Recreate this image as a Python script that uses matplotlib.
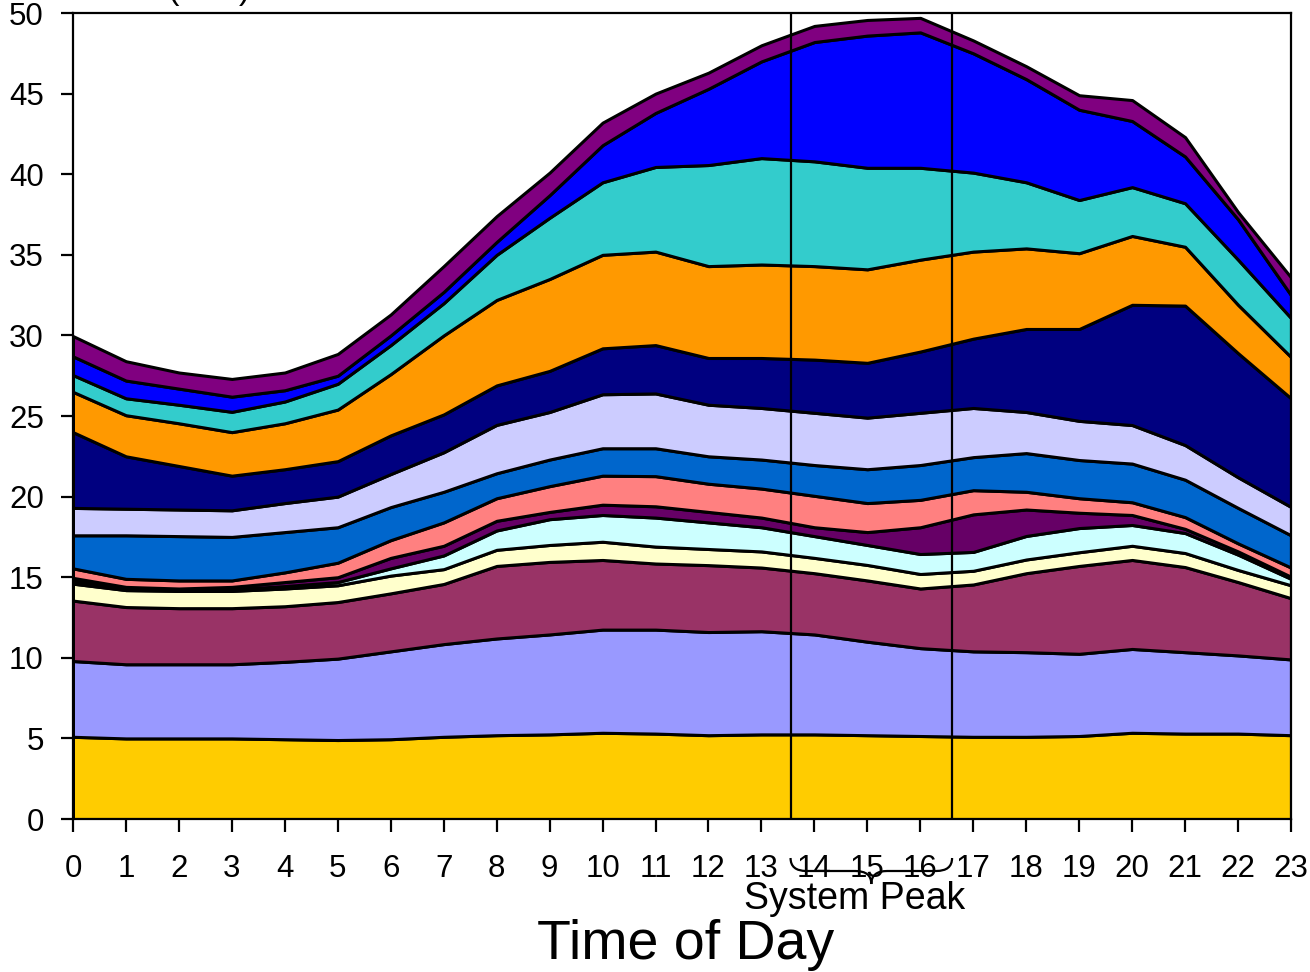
import numpy as np
import matplotlib.pyplot as plt
from matplotlib.path import Path
from matplotlib.patches import PathPatch
from matplotlib.transforms import blended_transform_factory

plt.rcParams['font.family'] = ['Liberation Sans', 'DejaVu Sans']

hours = list(range(24))

# stacked totals (top edge of each layer, bottom to top)
gold_top = [5.1, 5.0, 5.0, 5.0, 4.95, 4.9, 4.95, 5.1, 5.2, 5.25, 5.35, 5.3,
            5.2, 5.25, 5.25, 5.2, 5.15, 5.1, 5.1, 5.15, 5.35, 5.3, 5.3, 5.2]
periwinkle_top = [9.8, 9.6, 9.6, 9.6, 9.75, 9.95, 10.4, 10.85, 11.2, 11.45, 11.75, 11.75,
                  11.6, 11.65, 11.45, 11.0, 10.6, 10.4, 10.35, 10.25, 10.55, 10.35, 10.15, 9.9]
maroon_top = [13.55, 13.15, 13.08, 13.08, 13.2, 13.46, 14.0, 14.58, 15.7, 15.95, 16.07, 15.85,
              15.75, 15.6, 15.25, 14.8, 14.3, 14.55, 15.25, 15.7, 16.07, 15.63, 14.7, 13.7]
cream_top = [14.6, 14.2, 14.15, 14.15, 14.3, 14.5, 15.1, 15.5, 16.7, 17.0, 17.2, 16.9,
             16.75, 16.6, 16.2, 15.76, 15.2, 15.4, 16.1, 16.55, 16.95, 16.5, 15.45, 14.5]
ice_top = [14.8, 14.28, 14.2, 14.25, 14.45, 14.7, 15.55, 16.35, 17.9, 18.6, 18.86, 18.7,
           18.4, 18.1, 17.55, 17.0, 16.44, 16.57, 17.56, 18.05, 18.24, 17.74, 16.4, 14.9]
plum_top = [14.96, 14.4, 14.3, 14.4, 14.7, 15.0, 16.2, 16.95, 18.5, 19.05, 19.5, 19.4,
            19.05, 18.7, 18.1, 17.8, 18.1, 18.9, 19.2, 19.0, 18.86, 18.0, 16.6, 15.03]
salmon_top = [15.55, 14.9, 14.8, 14.8, 15.3, 15.9, 17.3, 18.4, 19.9, 20.65, 21.3, 21.27,
              20.8, 20.5, 20.05, 19.6, 19.8, 20.4, 20.3, 19.9, 19.65, 18.73, 17.1, 15.6]
mid_blue_top = [17.6, 17.6, 17.55, 17.5, 17.8, 18.1, 19.35, 20.3, 21.45, 22.3, 23.0, 23.0,
                22.5, 22.3, 21.96, 21.7, 21.96, 22.45, 22.7, 22.27, 22.05, 21.05, 19.3, 17.6]
lavender_top = [19.3, 19.25, 19.2, 19.15, 19.6, 20.0, 21.4, 22.75, 24.45, 25.25, 26.35, 26.4,
                25.7, 25.5, 25.2, 24.9, 25.2, 25.5, 25.25, 24.7, 24.44, 23.2, 21.2, 19.36]
navy_top = [24.0, 22.5, 21.9, 21.3, 21.7, 22.2, 23.8, 25.1, 26.9, 27.8, 29.2, 29.4,
            28.6, 28.6, 28.5, 28.3, 29.0, 29.8, 30.4, 30.4, 31.9, 31.85, 28.9, 26.1]
orange_top = [26.5, 25.05, 24.55, 24.0, 24.55, 25.4, 27.6, 30.0, 32.2, 33.5, 35.0, 35.2,
              34.3, 34.4, 34.3, 34.1, 34.7, 35.2, 35.4, 35.1, 36.17, 35.5, 31.9, 28.66]
teal_top = [27.54, 26.1, 25.7, 25.26, 25.9, 27.0, 29.4, 32.0, 35.0, 37.3, 39.5, 40.45,
            40.57, 41.0, 40.8, 40.4, 40.4, 40.1, 39.5, 38.4, 39.2, 38.2, 34.7, 31.08]
blue_top = [28.7, 27.2, 26.7, 26.2, 26.6, 27.5, 30.0, 32.7, 35.8, 38.7, 41.8, 43.8,
            45.3, 47.0, 48.2, 48.6, 48.8, 47.5, 45.9, 44.0, 43.3, 41.1, 37.2, 32.5]
purple_top = [29.96, 28.4, 27.7, 27.3, 27.7, 28.85, 31.3, 34.3, 37.4, 40.1, 43.2, 45.0,
              46.3, 48.0, 49.2, 49.57, 49.7, 48.3, 46.7, 44.9, 44.6, 42.3, 37.65, 33.6]

tops = [gold_top, periwinkle_top, maroon_top, cream_top, ice_top, plum_top, salmon_top,
        mid_blue_top, lavender_top, navy_top, orange_top, teal_top, blue_top, purple_top]
colors = ['#FFCC00', '#9999FF', '#993366', '#FFFFCC', '#CCFFFF', '#660066', '#FF8080',
          '#0066CC', '#CCCCFF', '#000080', '#FF9900', '#33CCCC', '#0000FF', '#800080']

peak_start, peak_end = 13.55, 16.6

# layer thicknesses from the stacked totals
cum = np.array(tops)
layers = np.diff(np.vstack([np.zeros(len(hours)), cum]), axis=0)

fig = plt.figure(figsize=(13.1, 9.72), dpi=100)
ax = fig.add_axes([0.0557, 0.1574, 0.9298, 0.8292])

ax.stackplot(hours, layers, colors=colors, edgecolor='black', linewidth=2.2)

ax.axvline(peak_start, color='black', lw=1.6)
ax.axvline(peak_end, color='black', lw=1.6)

ax.set_xlim(0, 23)
ax.set_ylim(0, 50)
ax.set_xticks(hours)
ax.set_yticks(range(0, 51, 5))
ax.tick_params(axis='both', direction='out', length=9, width=1.6, labelsize=22.5)
ax.tick_params(axis='x', pad=16)
ax.tick_params(axis='y', pad=12)
for s in ax.spines.values():
    s.set_linewidth(1.6)

# curly brace under the peak window
tr = blended_transform_factory(ax.transData, fig.transFigure)
y_top, y_mid, y_tip = 1 - 858 / 972, 1 - 871 / 972, 1 - 884 / 972
xc = (peak_start + peak_end) / 2
d = 0.3
verts = [(peak_start, y_top), (peak_start, y_mid), (peak_start + d, y_mid),
         (xc - d, y_mid), (xc, y_mid), (xc, y_tip),
         (xc, y_mid), (xc + d, y_mid),
         (peak_end - d, y_mid), (peak_end, y_mid), (peak_end, y_top)]
codes = [Path.MOVETO, Path.CURVE3, Path.CURVE3,
         Path.LINETO, Path.CURVE3, Path.CURVE3,
         Path.CURVE3, Path.CURVE3,
         Path.LINETO, Path.CURVE3, Path.CURVE3]
brace = PathPatch(Path(verts, codes), transform=tr, fill=False, lw=1.6,
                  edgecolor='black', clip_on=False)
ax.add_patch(brace)

fig.text(855 / 1310, 1 - 899 / 972, 'System Peak', ha='center', va='center', fontsize=27)
fig.text(686 / 1310, 1 - 945 / 972, 'Time of Day', ha='center', va='center', fontsize=40)
fig.text(85 / 1310, 1 + 1 / 972, 'Load (MW)', ha='left', va='baseline', fontsize=24)

fig.savefig('out.png', dpi=100)
